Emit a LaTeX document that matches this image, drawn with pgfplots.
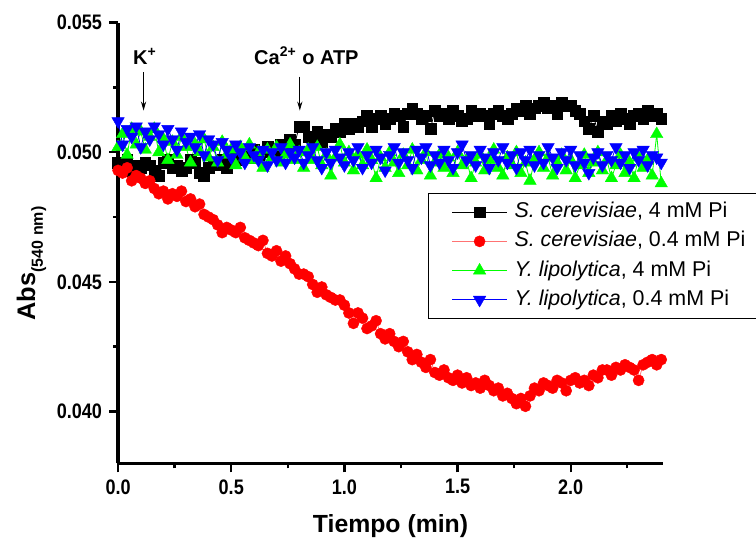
\documentclass[border=0pt]{standalone}
\usepackage{fontspec}
\setmainfont{Liberation Sans}
\usepackage{graphicx}
\usepackage{pgfplots}
\pgfplotsset{compat=1.18}
\usepackage{pgfplotstable}
\usetikzlibrary{arrows.meta}

% narrow bold tick labels
\newcommand{\tl}[1]{\scalebox{0.86}[1]{#1}}

\pgfplotstableread{
t     blk     red     grn     blu
0.00 0.0496 0.0493 0.0502 0.0512
0.02 0.0494 0.0492 0.0507 0.0503
0.04 0.0497 0.0494 0.0499 0.0509
0.06 0.0493 0.0489 0.0509 0.0506
0.08 0.0495 0.0491 0.0503 0.0510
0.10 0.0494 0.0490 0.0508 0.0502
0.12 0.0496 0.0488 0.0501 0.0508
0.14 0.0495 0.0489 0.0506 0.0505
0.16 0.0493 0.0486 0.0509 0.0510
0.18 0.0491 0.0484 0.0500 0.0507
0.20 0.0496 0.0485 0.0505 0.0503
0.22 0.0497 0.0482 0.0497 0.0509
0.24 0.0494 0.0484 0.0504 0.0505
0.26 0.0495 0.0483 0.0499 0.0501
0.28 0.0493 0.0485 0.0506 0.0508
0.30 0.0494 0.0481 0.0502 0.0504
0.32 0.0497 0.0482 0.0496 0.0506
0.34 0.0496 0.0479 0.0503 0.0502
0.36 0.0492 0.0480 0.0500 0.0507
0.38 0.0491 0.0476 0.0505 0.0499
0.40 0.0494 0.0475 0.0498 0.0505
0.42 0.0496 0.0474 0.0502 0.0503
0.44 0.0495 0.0472 0.0496 0.0497
0.46 0.0497 0.0469 0.0504 0.0504
0.48 0.0494 0.0471 0.0499 0.0501
0.50 0.0496 0.0470 0.0501 0.0498
0.52 0.0499 0.0469 0.0495 0.0503
0.54 0.0497 0.0471 0.0502 0.0500
0.56 0.0500 0.0467 0.0498 0.0496
0.58 0.0498 0.0466 0.0503 0.0502
0.60 0.0501 0.0465 0.0497 0.0499
0.62 0.0499 0.0464 0.0500 0.0497
0.64 0.0500 0.0466 0.0494 0.0501
0.66 0.0502 0.0461 0.0501 0.0495
0.68 0.0501 0.0460 0.0498 0.0500
0.70 0.0500 0.0462 0.0502 0.0497
0.72 0.0503 0.0458 0.0496 0.0502
0.74 0.0502 0.0460 0.0499 0.0496
0.76 0.0505 0.0457 0.0503 0.0500
0.78 0.0503 0.0455 0.0497 0.0498
0.80 0.0510 0.0453 0.0500 0.0501
0.82 0.0510 0.0453 0.0494 0.0496
0.84 0.0506 0.0452 0.0501 0.0499
0.86 0.0505 0.0449 0.0497 0.0502
0.88 0.0508 0.0446 0.0502 0.0497
0.90 0.0504 0.0448 0.0495 0.0494
0.92 0.0507 0.0445 0.0499 0.0500
0.94 0.0506 0.0444 0.0491 0.0496
0.96 0.0509 0.0443 0.0498 0.0501
0.98 0.0508 0.0443 0.0503 0.0498
1.00 0.0511 0.0441 0.0496 0.0495
1.02 0.0509 0.0438 0.0500 0.0500
1.04 0.0511 0.0434 0.0493 0.0497
1.06 0.0510 0.0438 0.0499 0.0502
1.08 0.0512 0.0436 0.0495 0.0494
1.10 0.0514 0.0432 0.0501 0.0499
1.12 0.0510 0.0433 0.0497 0.0496
1.14 0.0513 0.0435 0.0490 0.0501
1.16 0.0514 0.0430 0.0498 0.0498
1.18 0.0511 0.0428 0.0494 0.0493
1.20 0.0513 0.0430 0.0500 0.0499
1.22 0.0515 0.0427 0.0496 0.0502
1.24 0.0514 0.0425 0.0492 0.0496
1.26 0.0510 0.0427 0.0499 0.0500
1.28 0.0515 0.0423 0.0495 0.0497
1.30 0.0517 0.0420 0.0501 0.0494
1.32 0.0515 0.0422 0.0493 0.0501
1.34 0.0513 0.0419 0.0497 0.0498
1.36 0.0514 0.0417 0.0500 0.0502
1.38 0.0509 0.0420 0.0491 0.0495
1.40 0.0516 0.0415 0.0496 0.0499
1.42 0.0514 0.0414 0.0499 0.0496
1.44 0.0515 0.0416 0.0494 0.0501
1.46 0.0513 0.0413 0.0498 0.0497
1.48 0.0516 0.0412 0.0492 0.0494
1.50 0.0514 0.0414 0.0500 0.0500
1.52 0.0512 0.0411 0.0495 0.0503
1.54 0.0513 0.0413 0.0497 0.0497
1.56 0.0516 0.0410 0.0490 0.0499
1.58 0.0514 0.0411 0.0496 0.0495
1.60 0.0515 0.0409 0.0499 0.0501
1.62 0.0514 0.0412 0.0493 0.0498
1.64 0.0511 0.0410 0.0497 0.0494
1.66 0.0515 0.0408 0.0501 0.0500
1.68 0.0516 0.0409 0.0494 0.0497
1.70 0.0514 0.0406 0.0491 0.0502
1.72 0.0513 0.0407 0.0498 0.0496
1.74 0.0515 0.0405 0.0495 0.0499
1.76 0.0517 0.0403 0.0500 0.0494
1.78 0.0516 0.0405 0.0492 0.0500
1.80 0.0518 0.0402 0.0496 0.0497
1.82 0.0515 0.0406 0.0489 0.0501
1.84 0.0517 0.0409 0.0497 0.0495
1.86 0.0518 0.0408 0.0500 0.0499
1.88 0.0519 0.0411 0.0494 0.0496
1.90 0.0517 0.0410 0.0498 0.0502
1.92 0.0518 0.0409 0.0491 0.0498
1.94 0.0515 0.0412 0.0496 0.0494
1.96 0.0519 0.0411 0.0499 0.0500
1.98 0.0518 0.0408 0.0493 0.0497
2.00 0.0518 0.0412 0.0497 0.0501
2.02 0.0516 0.0413 0.0490 0.0495
2.04 0.0515 0.0411 0.0495 0.0499
2.06 0.0512 0.0412 0.0499 0.0496
2.08 0.0509 0.0410 0.0492 0.0492
2.10 0.0514 0.0414 0.0496 0.0498
2.12 0.0508 0.0413 0.0500 0.0500
2.14 0.0512 0.0416 0.0493 0.0495
2.16 0.0511 0.0416 0.0497 0.0499
2.18 0.0514 0.0414 0.0490 0.0497
2.20 0.0512 0.0417 0.0495 0.0502
2.22 0.0515 0.0416 0.0499 0.0496
2.24 0.0513 0.0418 0.0492 0.0499
2.26 0.0511 0.0417 0.0496 0.0494
2.28 0.0514 0.0416 0.0490 0.0500
2.30 0.0515 0.0412 0.0498 0.0497
2.32 0.0513 0.0418 0.0494 0.0501
2.34 0.0516 0.0419 0.0497 0.0495
2.36 0.0514 0.0420 0.0491 0.0499
2.38 0.0515 0.0418 0.0507 0.0498
2.40 0.0513 0.0420 0.0488 0.0496
}\abs

\begin{document}
\begin{tikzpicture}
\begin{axis}[
    name=ax,
    scale only axis, width=272.7pt, height=220.3pt,
    xmin=0, xmax=2.41, ymin=0.038, ymax=0.055,
    axis x line=bottom, axis y line=left,
    axis line style={line width=1.6pt, -},
    tick align=outside,
    major tick length=4.5pt, minor tick length=2.5pt,
    tick style={line width=1.2pt, black},
    xtick={0,0.5,1,1.5,2},
    xticklabels={\tl{0.0},\tl{0.5},\tl{1.0},\tl{1.5},\tl{2.0}},
    minor xtick={0.25,0.75,1.25,1.75,2.25},
    ytick={0.040,0.045,0.050,0.055},
    yticklabels={\tl{0.040},\tl{0.045},\tl{0.050},\tl{0.055}},
    minor ytick={0.0425,0.0475,0.0525},
    scaled y ticks=false, scaled x ticks=false,
    tick label style={font=\fontsize{10.5}{12}\selectfont\bfseries},
    xlabel={\textbf{Tiempo (min)}},
    xlabel style={at={(rel axis cs:0.4995,-0.156)}, anchor=base, font=\fontsize{12.4}{14}\selectfont},
    ylabel={\textbf{Abs}\raisebox{-3.8pt}{\fontsize{8}{9}\selectfont\bfseries (540 nm)}},
    ylabel style={at={(rel axis cs:-0.152,0.4535)}, anchor=base, font=\fontsize{12.7}{14}\selectfont},
    legend image code/.code={\draw[mark repeat=2,mark phase=2,#1] plot coordinates {(0cm,0cm) (0.485cm,0cm) (0.97cm,0cm)};},
    legend style={at={(rel axis cs:0.5682,0.6135)}, anchor=north west,
        draw=black, line width=0.6pt, fill=white,
        font=\fontsize{10.7}{12}\selectfont,
        inner xsep=11.5pt, inner ysep=2pt, row sep=0pt,
        cells={anchor=west},
        nodes={inner xsep=3.5pt, inner ysep=1.7pt, text height=8.4pt, text depth=2.8pt}},
  ]
  \addplot[black, draw=black, line width=0.4pt, mark=square*, mark size=2.7pt,
      mark options={fill=black, draw=black, line width=0.2pt}] table[x=t, y=blk] {\abs};
  \addlegendentry{\textit{S. cerevisiae}, 4 mM Pi}
  \addplot[red!55, draw=red!55, line width=0.4pt, mark=*, mark size=2.8pt,
      mark options={fill=red, draw=red, line width=0.2pt}] table[x=t, y=red] {\abs};
  \addlegendentry{\textit{S. cerevisiae}, 0.4 mM Pi}
  \addplot[green, draw=green, line width=0.4pt, mark=triangle*, mark size=3.6pt,
      mark options={fill=green, draw=green, line width=0.2pt}] table[x=t, y=grn] {\abs};
  \addlegendentry{\textit{Y. lipolytica}, 4 mM Pi}
  \addplot[blue, draw=blue, line width=0.4pt, mark=triangle*, mark size=3.6pt,
      mark options={rotate=180, fill=blue, draw=blue, line width=0.2pt}] table[x=t, y=blu] {\abs};
  \addlegendentry{\textit{Y. lipolytica}, 0.4 mM Pi}

  % additions
  \draw[-{Stealth[length=4.5pt,width=2.6pt]}, line width=0.5pt]
      (axis cs:0.1125,0.05308) -- (axis cs:0.1125,0.05161);
  \draw[-{Stealth[length=4.5pt,width=2.6pt]}, line width=0.5pt]
      (axis cs:0.803,0.05292) -- (axis cs:0.803,0.05161);
  \node[anchor=base, font=\fontsize{10}{12}\selectfont\bfseries]
      at (axis cs:0.119,0.0534) {K\textsuperscript{+}};
  \node[anchor=base, font=\fontsize{10}{12}\selectfont\bfseries]
      at (axis cs:0.832,0.0534) {Ca\textsuperscript{2+} o ATP};
\end{axis}
\pgfresetboundingbox
\useasboundingbox ([shift={(-59.05pt,-37.35pt)}]ax.south west)
    rectangle ([shift={(46.25pt,11.35pt)}]ax.north east);
\end{tikzpicture}
\end{document}
